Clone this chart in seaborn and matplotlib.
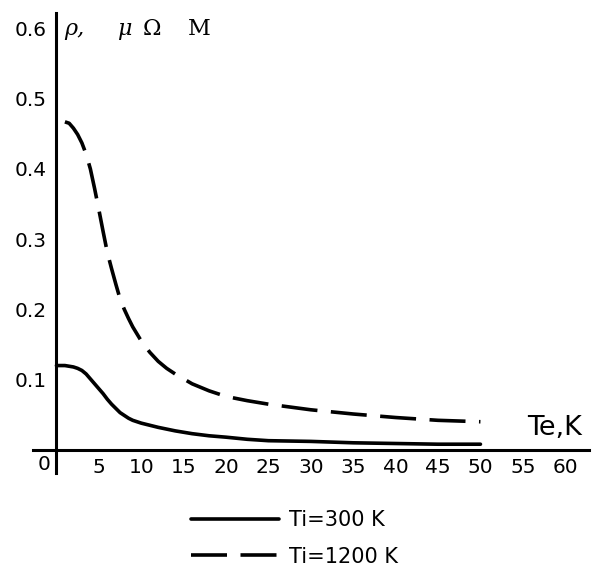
import matplotlib
matplotlib.use("Agg")
import matplotlib.pyplot as plt
import seaborn as sns
import pandas as pd

# ---- data ----
te_300 = [0, 0.5, 1, 1.5, 2, 2.5, 3, 3.5, 4, 4.5, 5, 5.5, 6, 6.5, 7, 7.5, 8, 8.5, 9, 10,
          11, 12, 14, 16, 18, 20, 22.5, 25, 30, 35, 40, 45, 50]
rho_300 = [0.120, 0.120, 0.120, 0.119, 0.118, 0.116, 0.113, 0.108, 0.101, 0.094, 0.087,
           0.080, 0.072, 0.065, 0.059, 0.053, 0.049, 0.045, 0.042, 0.038, 0.035, 0.032,
           0.027, 0.023, 0.020, 0.018, 0.015, 0.013, 0.012, 0.010, 0.009, 0.008, 0.008]
te_1200 = [1, 1.5, 2, 2.5, 3, 3.5, 4, 4.5, 5, 5.5, 6, 6.5, 7, 7.5, 8, 8.5, 9, 10, 11, 12,
           13, 14, 16, 18, 20, 22.5, 25, 27.5, 30, 35, 40, 45, 50]
rho_1200 = [0.467, 0.465, 0.458, 0.449, 0.437, 0.421, 0.400, 0.372, 0.342, 0.311, 0.281,
            0.258, 0.236, 0.215, 0.200, 0.187, 0.175, 0.155, 0.139, 0.126, 0.116, 0.108,
            0.094, 0.084, 0.076, 0.070, 0.065, 0.061, 0.057, 0.051, 0.046, 0.042, 0.040]
x_ticks = [5, 10, 15, 20, 25, 30, 35, 40, 45, 50, 55, 60]
y_ticks = [0.1, 0.2, 0.3, 0.4, 0.5, 0.6]
y_tick_labels = ["0.1", "0.2", "0.3", "0.4", "0.5", "0.6"]
labels = ["Ti=300 K", "Ti=1200 K"]

df300 = pd.DataFrame({"Te": te_300, "rho": rho_300})
df1200 = pd.DataFrame({"Te": te_1200, "rho": rho_1200})

sns.set_style("white")
plt.rcParams["font.family"] = ["DejaVu Sans"]
plt.rcParams["text.color"] = "black"
plt.rcParams["xtick.color"] = "black"
plt.rcParams["ytick.color"] = "black"

W, H = 606, 573
fig = plt.figure(figsize=(W / 100, H / 100), dpi=100)
# axes rectangle in pixels: left 32.7, right 589, top 13, bottom 473
ax = fig.add_axes([32.7 / W, (H - 473) / H, (589 - 32.7) / W, (473 - 13) / H])

lw = 2.6
lw_px = lw * 100 / 72
dash = (36 / lw_px, 13.5 / lw_px)

sns.lineplot(data=df300, x="Te", y="rho", ax=ax, color="black", lw=lw,
             label=labels[0], legend=False)
sns.lineplot(data=df1200, x="Te", y="rho", ax=ax, color="black", lw=lw,
             linestyle=(0, dash), label=labels[1], legend=False)

ax.set_xlim(-2.8, 62.8)
ax.set_ylim(-0.033, 0.622)
ax.set_xlabel("")
ax.set_ylabel("")

for s in ["top", "right"]:
    ax.spines[s].set_visible(False)
for s in ["left", "bottom"]:
    ax.spines[s].set_position(("data", 0))
    ax.spines[s].set_linewidth(2.2)
    ax.spines[s].set_color("black")

ax.set_xticks(x_ticks)
ax.set_xticklabels([str(t) for t in x_ticks])
ax.set_yticks(y_ticks)
ax.set_yticklabels(y_tick_labels)
ax.tick_params(axis="both", direction="inout", length=7.2, width=1.8,
               labelsize=14.5, colors="black")
ax.tick_params(axis="x", pad=2.2)
ax.tick_params(axis="y", pad=3.6)


def fx(px):
    return px / W


def fy(py):
    return 1 - py / H


# origin label
fig.text(fx(44), fy(465), "0", fontsize=14.5, ha="center", va="center")
# axis labels
fig.text(fx(527), fy(435), "Te,K", fontsize=19.5, ha="left", va="baseline")
fig.text(fx(64), fy(29), "ρ,", fontsize=16, family="DejaVu Serif", style="italic",
         ha="left", va="center")
fig.text(fx(117), fy(29), "μ", fontsize=16, family="DejaVu Serif", style="italic",
         ha="left", va="center")
fig.text(fx(143), fy(29), "Ω", fontsize=16, family="DejaVu Serif",
         ha="left", va="center")
fig.text(fx(188), fy(29), "M", fontsize=16, family="DejaVu Serif",
         ha="left", va="center")

handles, labs = ax.get_legend_handles_labels()
fig.legend(handles, labs, loc="upper left",
           bbox_to_anchor=(fx(191), fy(510)), bbox_transform=fig.transFigure,
           frameon=False, fontsize=15, handlelength=4.2, handletextpad=0.5,
           labelspacing=0.8, borderpad=0, borderaxespad=0, labelcolor="black")

fig.savefig("out.png", dpi=100)
